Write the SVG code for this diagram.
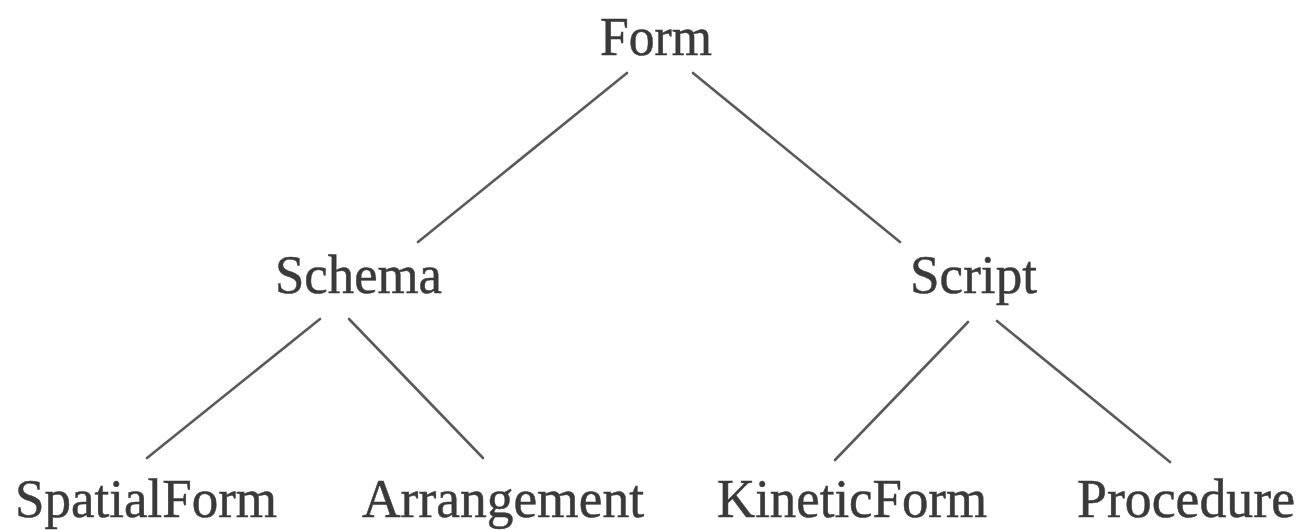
<svg xmlns="http://www.w3.org/2000/svg" width="1302" height="530" viewBox="0 0 1302 530">
  <style>
    .label { font-family: "Liberation Serif", "Times New Roman", serif; font-size: 54px; fill: #3a3a3a; stroke: #3a3a3a; stroke-width: 0.5; }
    .edge { stroke: #5a5a5a; stroke-width: 2.6; stroke-linecap: round; fill: none; }
  </style>
  <rect width="1302" height="530" fill="#ffffff"/>

  <!-- tree edges -->
  <g id="connectors">
    <line class="edge" x1="627" y1="73" x2="418" y2="242"/>
    <line class="edge" x1="693" y1="73" x2="900" y2="242"/>
    <line class="edge" x1="320" y1="319" x2="147" y2="458"/>
    <line class="edge" x1="349" y1="319" x2="483" y2="458"/>
    <line class="edge" x1="968" y1="322" x2="835" y2="460"/>
    <line class="edge" x1="997" y1="321" x2="1170" y2="462"/>
  </g>

  <!-- nodes -->
  <g id="form"><text class="label" x="600" y="55" textLength="112" lengthAdjust="spacingAndGlyphs">Form</text></g>
  <g id="schema"><text class="label" x="275" y="293" textLength="167" lengthAdjust="spacingAndGlyphs">Schema</text></g>
  <g id="script"><text class="label" x="910" y="293" textLength="127" lengthAdjust="spacingAndGlyphs">Script</text></g>
  <g id="spatialform"><text class="label" x="15" y="517" textLength="262" lengthAdjust="spacingAndGlyphs">SpatialForm</text></g>
  <g id="arrangement"><text class="label" x="362" y="517" textLength="282" lengthAdjust="spacingAndGlyphs">Arrangement</text></g>
  <g id="kineticform"><text class="label" x="717" y="517" textLength="270" lengthAdjust="spacingAndGlyphs">KineticForm</text></g>
  <g id="procedure"><text class="label" x="1077" y="517" textLength="218" lengthAdjust="spacingAndGlyphs">Procedure</text></g>
</svg>
